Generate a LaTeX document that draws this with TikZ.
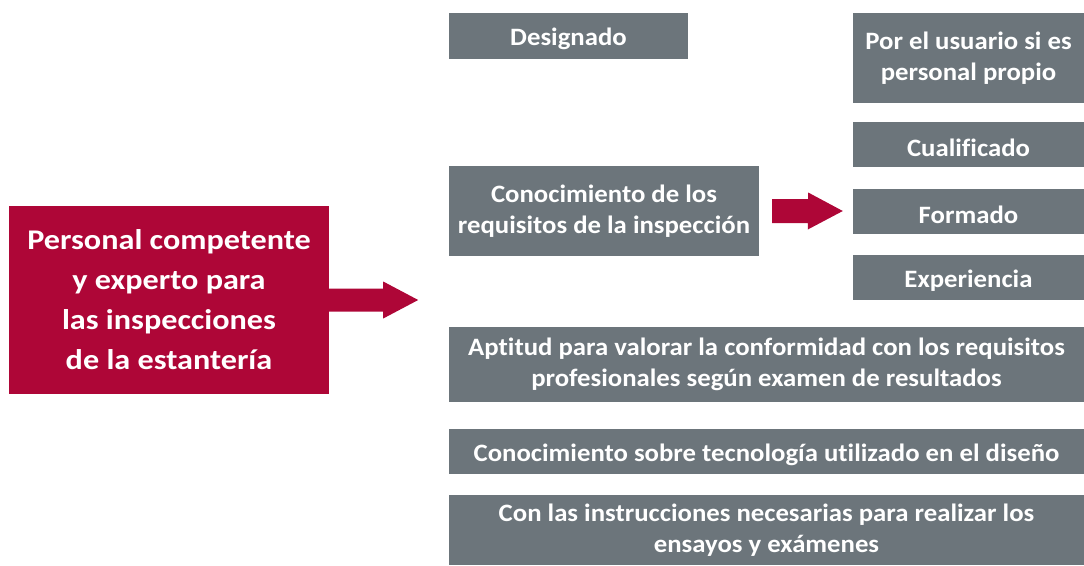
\documentclass[tikz,border=0pt]{standalone}
\usepackage{fontspec}
\setmainfont{Carlito}[Ligatures=NoCommon]
\newfontfamily\grisfont{Carlito}[Ligatures=NoCommon, FakeStretch=1.07]
\newfontfamily\granfont{Carlito}[Ligatures=NoCommon, FakeStretch=1.13]
\usetikzlibrary{calc}

\definecolor{granate}{HTML}{AE0637}
\definecolor{gris}{HTML}{6C757B}

\tikzset{
  caja/.style={fill=gris, text=white, inner sep=0pt, align=center,
    font=\grisfont\fontsize{25}{31}\selectfont\bfseries,
    execute at begin node={\rule{0pt}{24pt}}},
  principal/.style={fill=granate, text=white, inner sep=0pt, align=center,
    font=\granfont\fontsize{28.5}{40}\selectfont\bfseries}
}

\begin{document}
\begin{tikzpicture}[x=1pt,y=-1pt]

\useasboundingbox (0,0) rectangle (1084,565);

% Caja principal
\node[principal, minimum width=320, minimum height=188] (pers) at (169,300)
  {Personal competente\\y experto para\\las inspecciones\\de la estantería};

% Cajas centrales
\node[caja, minimum width=239, minimum height=46] (desig) at (568.5,36) {Designado};
\node[caja, minimum width=310, minimum height=90] (conoc) at (604,211)
  {Conocimiento de los\\requisitos de la inspección};

% Cajas derecha
\node[caja, minimum width=231, minimum height=90] (usuario) at (968.5,58)
  {Por el usuario si es\\personal propio};
\node[caja, minimum width=231, minimum height=45] (cualif) at (968.5,144.5) {Cualificado};
\node[caja, minimum width=231, minimum height=45] (formado) at (968.5,211.5) {Formado};
\node[caja, minimum width=231, minimum height=45] (exper) at (968.5,277.5) {Experiencia};

% Cajas anchas
\node[caja, minimum width=635, minimum height=75] (aptitud) at (766.5,364.5)
  {Aptitud para valorar la conformidad con los requisitos\\profesionales según examen de resultados};
\node[caja, minimum width=635, minimum height=45] (tecno) at (766.5,451.5)
  {Conocimiento sobre tecnología utilizado en el diseño};
\node[caja, minimum width=635, minimum height=70] (instr) at (766.5,530)
  {Con las instrucciones necesarias para realizar los\\ensayos y exámenes};

% Flechas
\fill[granate] ($(pers.east)+(0,-11.5)$) -- ++(54,0) -- ++(0,-7)
  -- ($(pers.east)+(89,0)$) -- ++(-35,18.5) -- ++(0,-7)
  -- ($(pers.east)+(0,11.5)$) -- cycle;
\fill[granate] ($(conoc.east)+(13,-12)$) -- ++(36,0) -- ++(0,-6.5)
  -- ($(formado.west)+(-10,-0.5)$) -- ++(-35,18.5) -- ++(0,-6.5)
  -- ($(conoc.east)+(13,12)$) -- cycle;

\end{tikzpicture}
\end{document}
